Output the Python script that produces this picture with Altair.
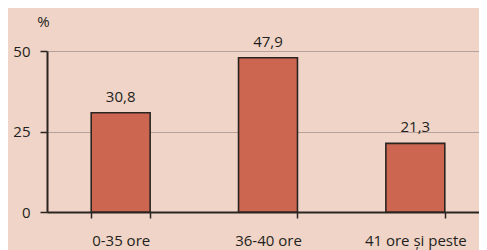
import altair as alt
import pandas as pd

categories = ["0-35 ore", "36-40 ore", "41 ore și peste"]
values = [30.8, 47.9, 21.3]
labels = ["30,8", "47,9", "21,3"]

df = pd.DataFrame({"cat": categories, "val": values, "lab": labels})

FONT = "Open Sans"
FS = 15

x = alt.X("cat:N", sort=categories, title=None,
          scale=alt.Scale(paddingInner=0.6, paddingOuter=0.3, range=[0, 442]),
          axis=alt.Axis(labelAngle=0, tickBand="extent", tickSize=6, tickWidth=1.5,
                        tickColor="#2b2522", domainColor="#2b2522", domainWidth=2,
                        labelPadding=15, labelFontSize=FS, labelFont=FONT,
                        labelColor="#231f20", grid=False))

bars = alt.Chart(df).mark_bar(color="#cd6650", stroke="#2b2522", strokeWidth=1.6).encode(
    x=x,
    y=alt.Y("val:Q", scale=alt.Scale(domain=[0, 50]),
            axis=alt.Axis(values=[0, 25, 50], tickSize=7, tickWidth=1.5, tickColor="#2b2522",
                          domainColor="#2b2522", domainWidth=2, labelPadding=10,
                          labelFontSize=FS, labelFont=FONT, labelColor="#231f20",
                          gridColor="#b7a29b", gridWidth=1.2,
                          title="%", titleAngle=0, titleAlign="center", titleBaseline="bottom",
                          titleX=-4, titleY=-22, titleFontSize=FS, titleFontWeight="normal",
                          titleFont=FONT, titleColor="#231f20")),
)

text = alt.Chart(df).mark_text(baseline="bottom", dy=-8, fontSize=FS, font=FONT,
                               color="#231f20").encode(
    x=alt.X("cat:N", sort=categories),
    y="val:Q",
    text="lab:N",
)

chart = (bars + text).properties(
    width=432, height=161,
    autosize=alt.AutoSizeParams(type="none"),
    padding={"left": 39, "top": 43, "right": 0, "bottom": 38},
    background="#f0d4c7",
).configure_view(stroke=None)

chart.save("out.html", embed_options={"renderer": "svg", "actions": False})
